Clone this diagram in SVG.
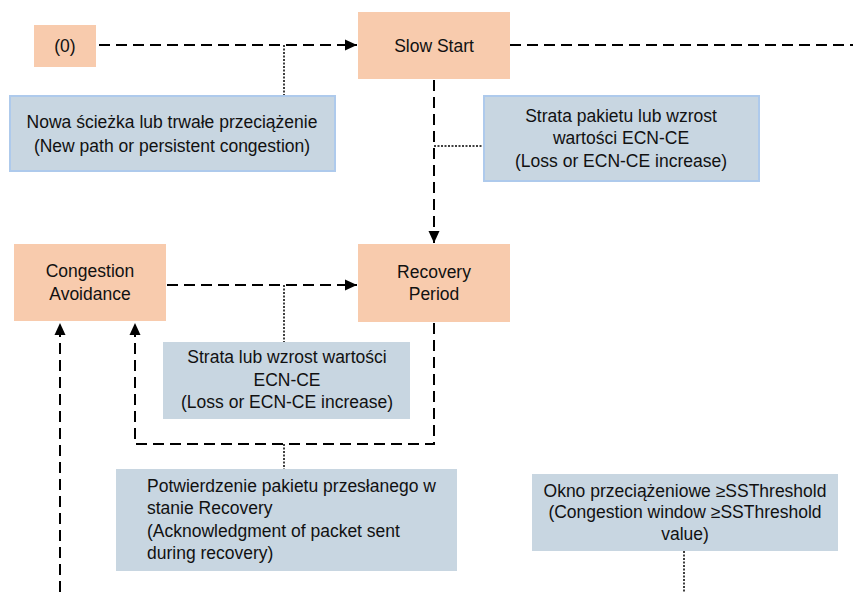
<svg xmlns="http://www.w3.org/2000/svg" width="853" height="592" viewBox="0 0 853 592">
<style>
.state{fill:#F8CBAD;}
.note{fill:#C8D6E1;}
.note-b{fill:#C8D6E1;stroke:#AECAEC;stroke-width:2;}
text{font-family:"Liberation Sans",Arial,sans-serif;font-size:17.5px;fill:#111;}
.c{text-anchor:middle;}
.dash{fill:none;stroke:#000;stroke-width:2;stroke-dasharray:11 6;}
.dot{fill:none;stroke:#000;stroke-width:1.5;stroke-dasharray:2 1.5;}
</style>
<defs>
<marker id="arr" markerUnits="userSpaceOnUse" markerWidth="13" markerHeight="13" viewBox="0 0 13 13" refX="12" refY="6.5" orient="auto">
<path d="M0,1 L12,6.5 L0,12 Z" fill="#000"/>
</marker>
</defs>
<rect width="853" height="592" fill="#fff"/>
<g id="connectors">
<path class="dash" d="M99,45 H357" marker-end="url(#arr)"/>
<path class="dash" d="M510,45 H853"/>
<path class="dash" d="M434,80 V243" marker-end="url(#arr)"/>
<path class="dash" d="M167,285 H357" marker-end="url(#arr)"/>
<path class="dash" d="M434,323 V444 H135 V323" marker-end="url(#arr)"/>
<path class="dash" d="M60,592 V323" marker-end="url(#arr)"/>
<path class="dot" d="M284,45 V95"/>
<path class="dot" d="M434,146 H483"/>
<path class="dot" d="M284,285 V342"/>
<path class="dot" d="M284,444 V469"/>
<path class="dot" d="M684,551 V592"/>
</g>
<g id="n0">
<rect class="state" x="34" y="25" width="62" height="42"/>
<text class="c" x="65" y="52">(0)</text>
</g>
<g id="slowstart">
<rect class="state" x="358" y="12" width="152" height="67"/>
<text class="c" x="434" y="52">Slow Start</text>
</g>
<g id="note-newpath">
<rect class="note-b" x="10" y="96" width="325" height="75"/>
<text class="c" x="172" y="128">Nowa ścieżka lub trwałe przeciążenie</text>
<text class="c" x="172" y="152">(New path or persistent congestion)</text>
</g>
<g id="note-loss1">
<rect class="note-b" x="484" y="96" width="275" height="85"/>
<text class="c" x="621" y="122">Strata pakietu lub wzrost</text>
<text class="c" x="621" y="144">wartości ECN-CE</text>
<text class="c" x="621" y="167">(Loss or ECN-CE increase)</text>
</g>
<g id="congestion-avoidance">
<rect class="state" x="14" y="244" width="152" height="77"/>
<text class="c" x="90" y="277">Congestion</text>
<text class="c" x="90" y="300">Avoidance</text>
</g>
<g id="recovery">
<rect class="state" x="358" y="244" width="152" height="78"/>
<text class="c" x="434" y="278">Recovery</text>
<text class="c" x="434" y="300">Period</text>
</g>
<g id="note-loss2">
<rect class="note" x="163" y="342" width="247" height="77"/>
<text class="c" x="287" y="363">Strata lub wzrost wartości</text>
<text class="c" x="287" y="386">ECN-CE</text>
<text class="c" x="287" y="408">(Loss or ECN-CE increase)</text>
</g>
<g id="note-ack">
<rect class="note" x="116" y="469" width="341" height="102"/>
<text x="147" y="492">Potwierdzenie pakietu przesłanego w</text>
<text x="147" y="514">stanie Recovery</text>
<text x="147" y="537">(Acknowledgment of packet sent</text>
<text x="147" y="559">during recovery)</text>
</g>
<g id="note-cwnd">
<rect class="note" x="532" y="474" width="306" height="77"/>
<text class="c" x="685" y="497">Okno przeciążeniowe ≥SSThreshold</text>
<text class="c" x="685" y="518">(Congestion window ≥SSThreshold</text>
<text class="c" x="685" y="540">value)</text>
</g>
</svg>
